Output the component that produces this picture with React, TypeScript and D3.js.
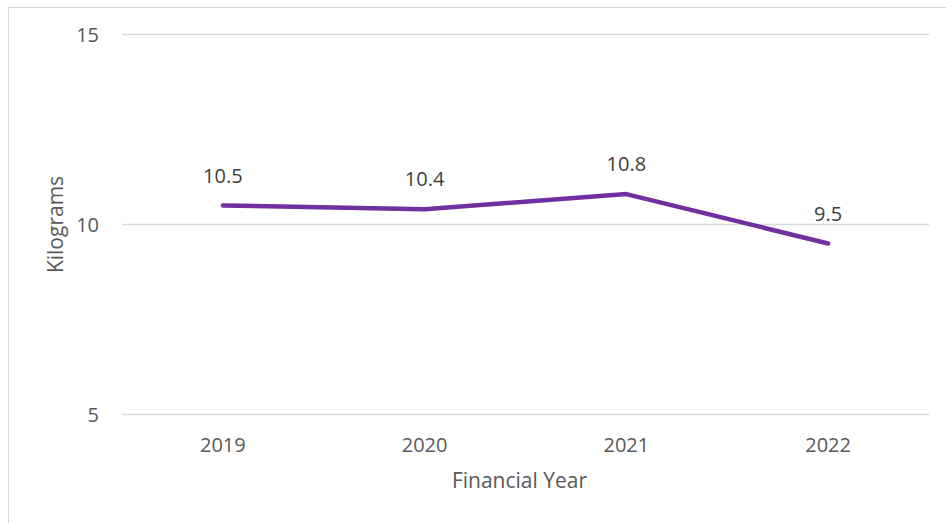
import React from "react";
import * as d3 from "d3";

const years = ["2019", "2020", "2021", "2022"];
const values = [10.5, 10.4, 10.8, 9.5];
const yTicks = [5, 10, 15];

const W = 946;
const H = 523;
const margin = { left: 122, right: 17, top: 34.5, bottom: 108.5 };
const FONT = "'Open Sans', 'Liberation Sans', sans-serif";
const TEXT = "#595959";

export default function App() {
  const x = d3
    .scaleBand<string>()
    .domain(years)
    .range([margin.left, W - margin.right])
    .padding(0);
  const y = d3.scaleLinear().domain([5, 15]).range([H - margin.bottom, margin.top]);
  const cx = (d: string) => (x(d) as number) + x.bandwidth() / 2;
  const pts = years.map((d, i) => [cx(d), y(values[i])] as [number, number]);
  const line = d3.line();
  const plotCenter = (margin.left + W - margin.right) / 2;

  return (
    <svg
      width={W}
      height={H}
      style={{ position: "absolute", left: 0, top: 0, background: "#fff" }}
      fontFamily={FONT}
    >
      <rect x={0} y={0} width={W} height={H} fill="#fff" />
      <line x1={8} x2={W} y1={7.5} y2={7.5} stroke="#d9d9d9" strokeWidth={1} />
      <line x1={8.5} x2={8.5} y1={7} y2={H} stroke="#d9d9d9" strokeWidth={1} />
      {yTicks.map((t) => (
        <g key={t}>
          <line
            x1={margin.left}
            x2={W - margin.right}
            y1={y(t)}
            y2={y(t)}
            stroke="#d9d9d9"
            strokeWidth={1.3}
          />
          <text
            x={99}
            y={y(t)}
            dy="0.35em"
            textAnchor="end"
            fontSize={20}
            fill={TEXT}
          >
            {t}
          </text>
        </g>
      ))}
      {years.map((d) => (
        <text key={d} x={cx(d)} y={451.5} textAnchor="middle" fontSize={20} fill={TEXT}>
          {d}
        </text>
      ))}
      <text x={plotCenter - 6} y={488} textAnchor="middle" fontSize={21} fill={TEXT}>
        Financial Year
      </text>
      <text
        transform={`translate(63,${y(10)}) rotate(-90)`}
        textAnchor="middle"
        fontSize={21}
        fill={TEXT}
      >
        Kilograms
      </text>
      <path
        d={line(pts) ?? ""}
        fill="none"
        stroke="#7030A0"
        strokeWidth={4.5}
        strokeLinecap="round"
        strokeLinejoin="round"
      />
      {years.map((d, i) => (
        <text
          key={d}
          x={cx(d)}
          y={y(values[i]) - 23}
          textAnchor="middle"
          fontSize={20}
          fill="#404040"
        >
          {values[i].toFixed(1)}
        </text>
      ))}
    </svg>
  );
}
